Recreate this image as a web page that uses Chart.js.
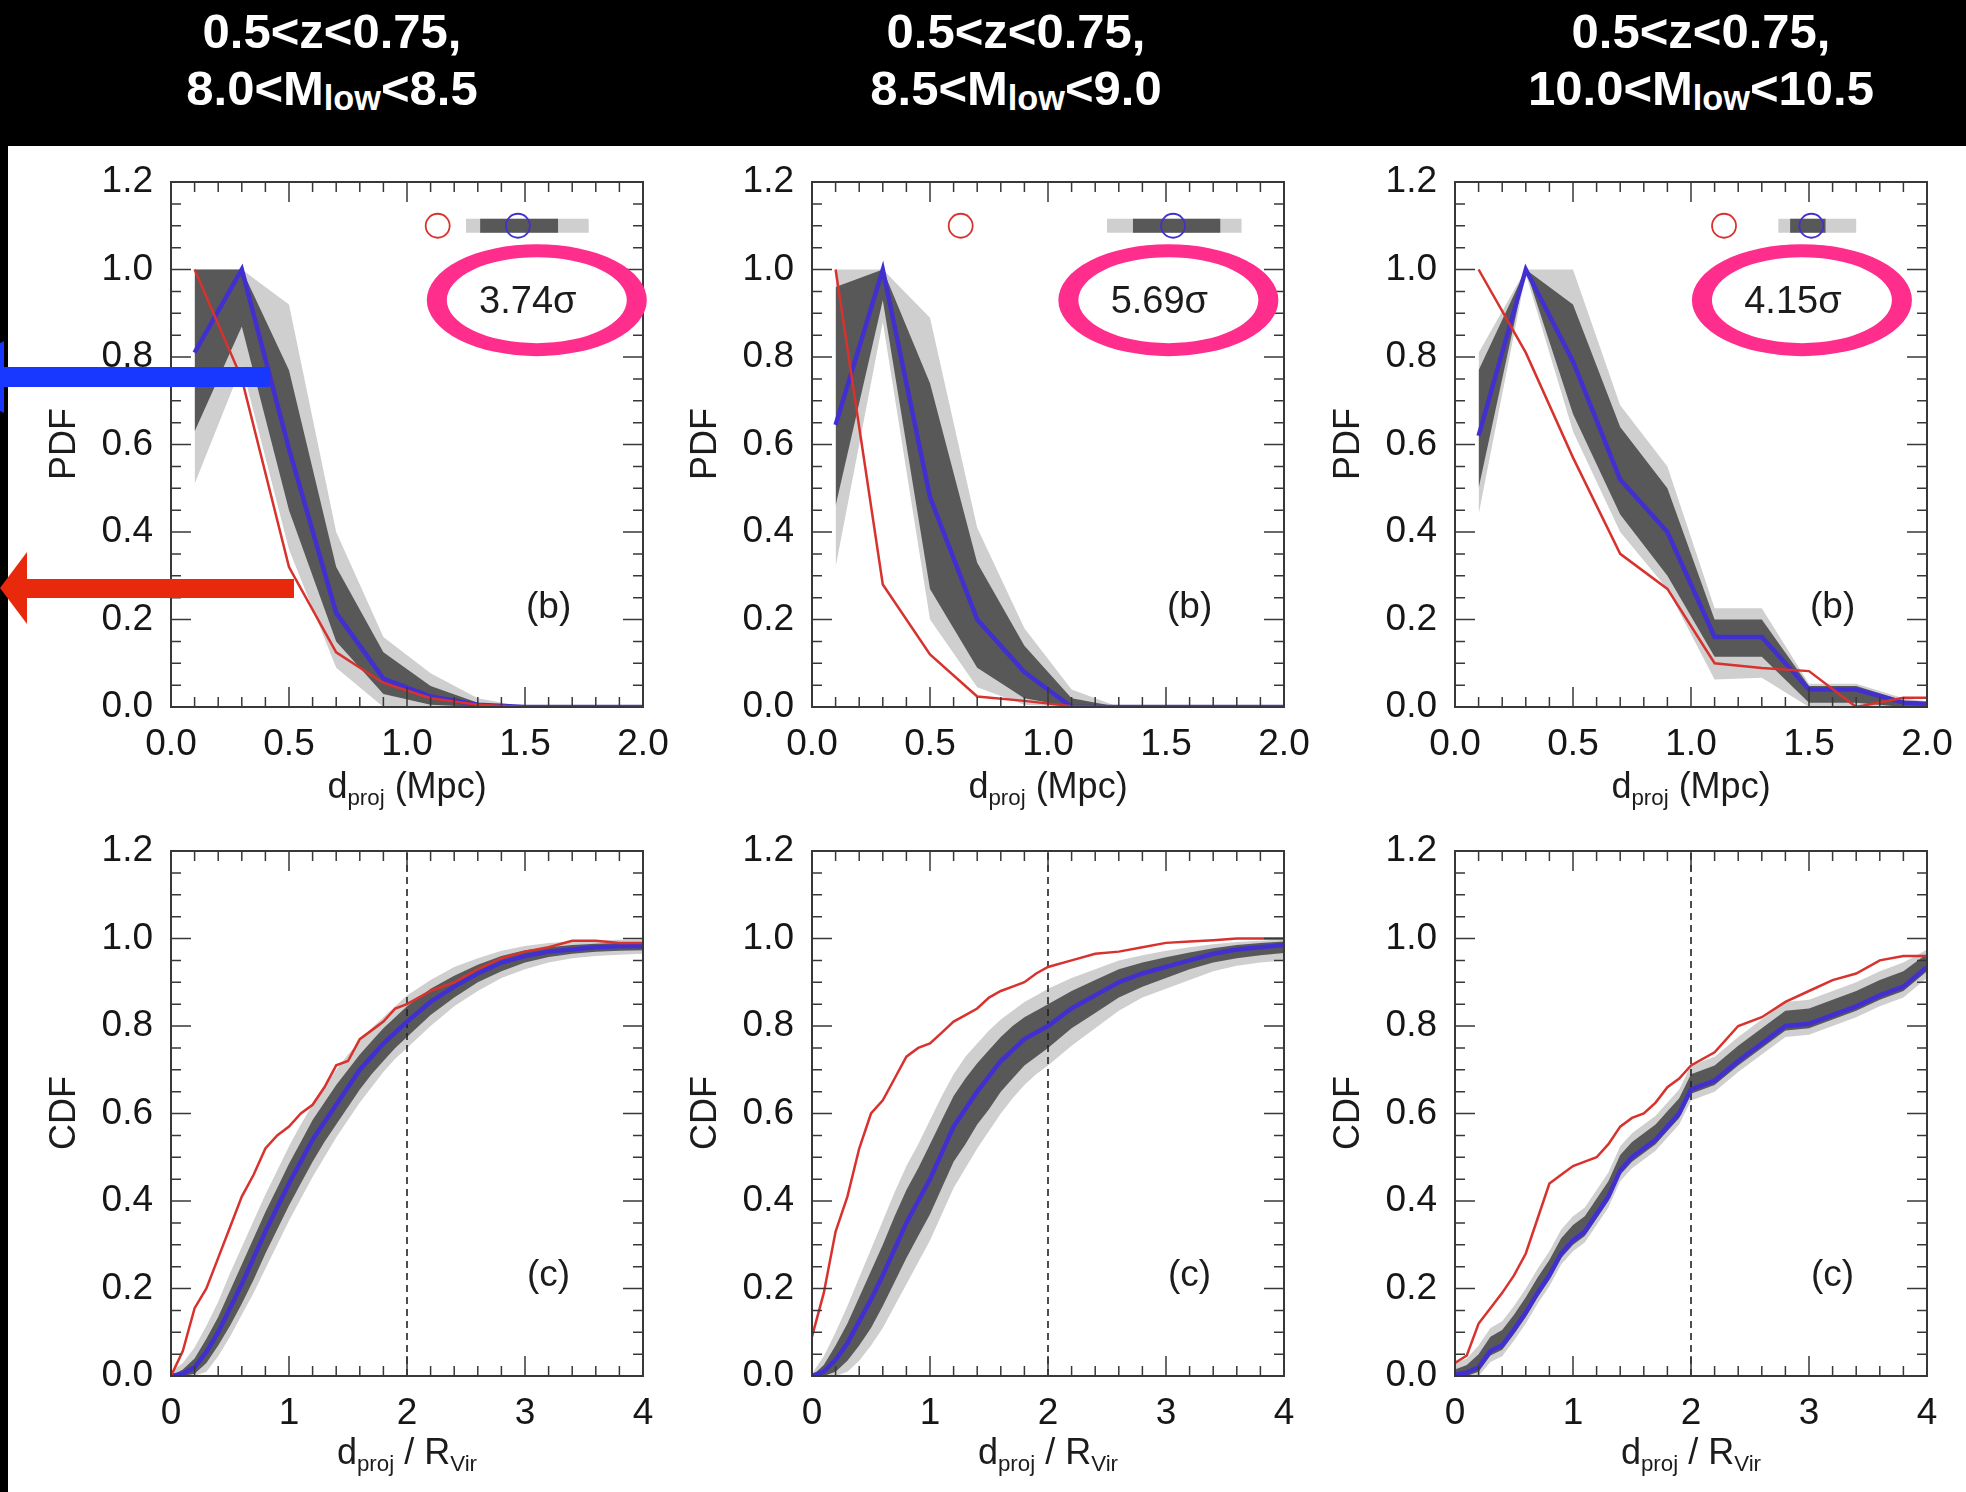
<!DOCTYPE html>
<html>
<head>
<meta charset="utf-8">
<title>PDF / CDF of projected distances</title>
<script src="https://cdn.jsdelivr.net/npm/chart.js@4.4.1/dist/chart.umd.min.js"></script>
<style>
  body { margin: 0; width: 1966px; height: 1492px; position: relative; overflow: hidden; background: #fff;
         font-family: "Liberation Sans", Arial, sans-serif; color: #1c1c1c; }
  #topband { position: absolute; left: 0; top: 0; width: 1966px; height: 146px; background: #000; }
  #leftband { position: absolute; left: 0; top: 0; width: 8px; height: 1492px; background: #000; }
  .title { position: absolute; top: 3px; width: 600px; text-align: center; color: #fff; font-weight: bold;
           font-size: 49px; line-height: 57px; }
  .title .s { font-size: 0.7em; position: relative; top: 0.16em; }
  canvas { position: absolute; }
  .xt { position: absolute; width: 400px; text-align: center; font-size: 36px; line-height: 40px; }
  .xt .s { font-size: 0.62em; position: relative; top: 0.32em; }
  .yt { position: absolute; width: 200px; height: 40px; line-height: 40px; text-align: center; font-size: 36px;
        transform: rotate(-90deg); }
  #arrows { position: absolute; left: 0; top: 0; z-index: 5; }
</style>
</head>
<body>
<div id="topband"></div>
<div id="leftband"></div>

<div class="title" style="left:32px">0.5&lt;z&lt;0.75,<br>8.0&lt;M<span class="s">low</span>&lt;8.5</div>
<div class="title" style="left:716px">0.5&lt;z&lt;0.75,<br>8.5&lt;M<span class="s">low</span>&lt;9.0</div>
<div class="title" style="left:1401px">0.5&lt;z&lt;0.75,<br>10.0&lt;M<span class="s">low</span>&lt;10.5</div>

<canvas id="pdf1" width="617" height="630" style="left:71px;top:147px"></canvas>
<canvas id="pdf2" width="617" height="630" style="left:712px;top:147px"></canvas>
<canvas id="pdf3" width="617" height="630" style="left:1355px;top:147px"></canvas>
<canvas id="cdf1" width="617" height="630" style="left:71px;top:816px"></canvas>
<canvas id="cdf2" width="617" height="630" style="left:712px;top:816px"></canvas>
<canvas id="cdf3" width="617" height="630" style="left:1355px;top:816px"></canvas>

<div class="yt" style="left:-37px;top:424px">PDF</div>
<div class="yt" style="left:604px;top:424px">PDF</div>
<div class="yt" style="left:1247px;top:424px">PDF</div>
<div class="yt" style="left:-37px;top:1093px">CDF</div>
<div class="yt" style="left:604px;top:1093px">CDF</div>
<div class="yt" style="left:1247px;top:1093px">CDF</div>

<div class="xt" style="left:207px;top:766px">d<span class="s">proj</span> (Mpc)</div>
<div class="xt" style="left:848px;top:766px">d<span class="s">proj</span> (Mpc)</div>
<div class="xt" style="left:1491px;top:766px">d<span class="s">proj</span> (Mpc)</div>
<div class="xt" style="left:207px;top:1432px">d<span class="s">proj</span> / R<span class="s">Vir</span></div>
<div class="xt" style="left:848px;top:1432px">d<span class="s">proj</span> / R<span class="s">Vir</span></div>
<div class="xt" style="left:1491px;top:1432px">d<span class="s">proj</span> / R<span class="s">Vir</span></div>

<svg id="arrows" width="320" height="700">
  <rect x="0" y="367" width="270" height="20" fill="#1838ff"/>
  <polygon points="4,341 4,413 -60,377" fill="#1838ff"/>
  <rect x="24" y="579" width="270" height="19" fill="#e8290c"/>
  <polygon points="0,588 27,552 27,624" fill="#e8290c"/>
</svg>

<script>
/* bin centres of the PDF histograms (Mpc) */
var pdfX = [0.1, 0.3, 0.5, 0.7, 0.9, 1.1, 1.3, 1.5, 1.7, 1.9, 2.1];

var pdfRed1 = [1.00, 0.75, 0.32, 0.125, 0.055, 0.02, 0.005, 0, 0, 0, 0];
var pdfBlue1 = [0.81, 1.00, 0.59, 0.215, 0.065, 0.024, 0.005, 0, 0, 0, 0];
var pdfDarkLo1 = [0.63, 0.87, 0.45, 0.15, 0.03, 0.005, 0, 0, 0, 0, 0];
var pdfDarkHi1 = [1.00, 1.00, 0.77, 0.32, 0.125, 0.048, 0.01, 0, 0, 0, 0];
var pdfLightLo1 = [0.51, 0.78, 0.36, 0.09, 0, 0, 0, 0, 0, 0, 0];
var pdfLightHi1 = [1.00, 1.00, 0.92, 0.40, 0.16, 0.077, 0.02, 0, 0, 0, 0];

var pdfRed2 = [1.00, 0.28, 0.12, 0.024, 0.014, 0.002, 0, 0, 0, 0, 0];
var pdfBlue2 = [0.645, 1.00, 0.48, 0.20, 0.08, 0, 0, 0, 0, 0, 0];
var pdfDarkLo2 = [0.46, 0.93, 0.27, 0.09, 0.02, 0, 0, 0, 0, 0, 0];
var pdfDarkHi2 = [0.96, 1.00, 0.74, 0.33, 0.14, 0.02, 0, 0, 0, 0, 0];
var pdfLightLo2 = [0.32, 0.88, 0.20, 0.045, 0.005, 0, 0, 0, 0, 0, 0];
var pdfLightHi2 = [1.00, 1.00, 0.89, 0.41, 0.18, 0.04, 0, 0, 0, 0, 0];

var pdfRed3 = [1.00, 0.81, 0.57, 0.35, 0.27, 0.10, 0.089, 0.082, 0, 0.021, 0.021];
var pdfBlue3 = [0.62, 1.00, 0.79, 0.52, 0.40, 0.16, 0.16, 0.04, 0.04, 0.01, 0.005];
var pdfDarkLo3 = [0.50, 1.00, 0.67, 0.44, 0.30, 0.115, 0.115, 0.01, 0.01, 0, 0];
var pdfDarkHi3 = [0.77, 1.00, 0.92, 0.64, 0.50, 0.20, 0.20, 0.048, 0.048, 0.015, 0.005];
var pdfLightLo3 = [0.44, 0.99, 0.63, 0.40, 0.27, 0.063, 0.067, 0, 0, 0, 0];
var pdfLightHi3 = [0.81, 1.00, 1.00, 0.69, 0.55, 0.226, 0.226, 0.053, 0.053, 0.02, 0.005];

/* d_proj / R_vir sample points of the CDFs */
var cdfX = [0, 0.1, 0.2, 0.3, 0.4, 0.5, 0.6, 0.7, 0.8, 0.9, 1.0, 1.1, 1.2, 1.3, 1.4, 1.5, 1.6, 1.7, 1.8, 1.9, 2.0,
            2.2, 2.4, 2.6, 2.8, 3.0, 3.2, 3.4, 3.6, 3.8, 4.0];

var cdfRed1 = [0, 0.057, 0.155, 0.20, 0.27, 0.34, 0.41, 0.46, 0.52, 0.55, 0.57, 0.60, 0.62, 0.66, 0.71, 0.72, 0.77, 0.79, 0.81, 0.84, 0.85,
               0.88, 0.90, 0.93, 0.955, 0.97, 0.98, 0.995, 0.995, 0.99, 0.99];
var cdfBlue1 = [0, 0.005, 0.02, 0.055, 0.10, 0.155, 0.21, 0.27, 0.33, 0.385, 0.44, 0.49, 0.54, 0.58, 0.62, 0.66, 0.70, 0.73, 0.76, 0.785, 0.81,
                0.855, 0.89, 0.92, 0.945, 0.96, 0.97, 0.975, 0.98, 0.982, 0.983];
var cdfDarkLo1 = [0, 0, 0.005, 0.03, 0.07, 0.115, 0.165, 0.22, 0.28, 0.335, 0.39, 0.44, 0.49, 0.535, 0.575, 0.615, 0.655, 0.69, 0.72, 0.75, 0.775,
                  0.825, 0.865, 0.90, 0.925, 0.945, 0.958, 0.965, 0.97, 0.972, 0.973];
var cdfDarkHi1 = [0, 0.015, 0.04, 0.085, 0.135, 0.195, 0.255, 0.315, 0.375, 0.43, 0.485, 0.535, 0.585, 0.625, 0.665, 0.70, 0.735, 0.765, 0.795, 0.82, 0.845,
                  0.885, 0.915, 0.94, 0.96, 0.973, 0.98, 0.985, 0.988, 0.99, 0.99];
var cdfLightLo1 = [0, 0, 0, 0.01, 0.045, 0.09, 0.14, 0.19, 0.245, 0.30, 0.355, 0.405, 0.455, 0.50, 0.545, 0.585, 0.625, 0.66, 0.695, 0.725, 0.75,
                   0.80, 0.845, 0.88, 0.91, 0.93, 0.945, 0.955, 0.96, 0.963, 0.965];
var cdfLightHi1 = [0.01, 0.03, 0.065, 0.115, 0.17, 0.235, 0.295, 0.355, 0.415, 0.47, 0.525, 0.575, 0.62, 0.66, 0.70, 0.735, 0.765, 0.795, 0.82, 0.845, 0.87,
                   0.905, 0.935, 0.955, 0.972, 0.983, 0.99, 0.993, 0.995, 0.997, 0.998];

var cdfRed2 = [0.09, 0.19, 0.33, 0.41, 0.52, 0.60, 0.63, 0.68, 0.73, 0.75, 0.76, 0.785, 0.81, 0.825, 0.84, 0.865, 0.88, 0.89, 0.90, 0.92, 0.935,
               0.95, 0.965, 0.97, 0.98, 0.99, 0.993, 0.996, 1.0, 1.0, 1.0];
var cdfBlue2 = [0, 0.01, 0.037, 0.075, 0.125, 0.175, 0.23, 0.29, 0.35, 0.40, 0.45, 0.51, 0.57, 0.61, 0.65, 0.685, 0.72, 0.745, 0.77, 0.785, 0.80,
                0.84, 0.87, 0.90, 0.92, 0.935, 0.95, 0.965, 0.975, 0.98, 0.985];
var cdfDarkLo2 = [0, 0, 0.01, 0.035, 0.07, 0.11, 0.16, 0.215, 0.27, 0.32, 0.37, 0.43, 0.49, 0.53, 0.575, 0.61, 0.65, 0.68, 0.71, 0.73, 0.75,
                  0.795, 0.83, 0.865, 0.89, 0.91, 0.93, 0.945, 0.955, 0.962, 0.967];
var cdfDarkHi2 = [0, 0.025, 0.07, 0.12, 0.18, 0.24, 0.30, 0.365, 0.425, 0.475, 0.53, 0.585, 0.64, 0.68, 0.715, 0.745, 0.775, 0.80, 0.82, 0.835, 0.85,
                  0.88, 0.905, 0.93, 0.945, 0.957, 0.968, 0.978, 0.985, 0.99, 0.993];
var cdfLightLo2 = [0, 0, 0, 0.01, 0.035, 0.07, 0.11, 0.16, 0.21, 0.26, 0.31, 0.37, 0.43, 0.475, 0.52, 0.56, 0.60, 0.635, 0.665, 0.69, 0.71,
                   0.755, 0.795, 0.835, 0.865, 0.885, 0.905, 0.925, 0.938, 0.945, 0.95];
var cdfLightHi2 = [0.005, 0.045, 0.10, 0.16, 0.225, 0.29, 0.355, 0.42, 0.48, 0.53, 0.585, 0.64, 0.69, 0.73, 0.76, 0.79, 0.815, 0.835, 0.855, 0.87, 0.885,
                   0.91, 0.93, 0.95, 0.962, 0.972, 0.98, 0.987, 0.992, 0.995, 0.998];

var cdfRed3 = [0.03, 0.047, 0.12, 0.155, 0.19, 0.23, 0.28, 0.36, 0.44, 0.46, 0.48, 0.49, 0.50, 0.53, 0.57, 0.59, 0.60, 0.625, 0.66, 0.68, 0.71,
               0.74, 0.80, 0.82, 0.855, 0.88, 0.905, 0.92, 0.95, 0.96, 0.96];
var cdfBlue3 = [0.003, 0.008, 0.02, 0.057, 0.07, 0.106, 0.145, 0.19, 0.23, 0.28, 0.31, 0.33, 0.37, 0.41, 0.47, 0.50, 0.52, 0.54, 0.57, 0.60, 0.655,
                0.675, 0.72, 0.76, 0.80, 0.805, 0.825, 0.845, 0.87, 0.89, 0.935];
var cdfDarkLo3 = [0, 0, 0.01, 0.047, 0.06, 0.096, 0.135, 0.18, 0.22, 0.27, 0.30, 0.32, 0.36, 0.40, 0.46, 0.49, 0.51, 0.53, 0.56, 0.59, 0.645,
                  0.665, 0.71, 0.75, 0.79, 0.795, 0.815, 0.835, 0.86, 0.88, 0.925];
var cdfDarkHi3 = [0.015, 0.025, 0.05, 0.09, 0.105, 0.14, 0.18, 0.225, 0.265, 0.315, 0.345, 0.365, 0.405, 0.445, 0.505, 0.535, 0.555, 0.575, 0.605, 0.635, 0.69,
                  0.71, 0.755, 0.795, 0.835, 0.84, 0.86, 0.88, 0.905, 0.925, 0.965];
var cdfLightLo3 = [0, 0, 0, 0.032, 0.045, 0.081, 0.12, 0.165, 0.205, 0.255, 0.285, 0.305, 0.345, 0.385, 0.445, 0.475, 0.495, 0.515, 0.545, 0.575, 0.63,
                   0.65, 0.695, 0.735, 0.775, 0.78, 0.80, 0.82, 0.845, 0.865, 0.91];
var cdfLightHi3 = [0.03, 0.04, 0.07, 0.11, 0.125, 0.16, 0.20, 0.245, 0.285, 0.335, 0.365, 0.385, 0.425, 0.465, 0.525, 0.555, 0.575, 0.595, 0.625, 0.655, 0.71,
                   0.73, 0.775, 0.815, 0.855, 0.86, 0.88, 0.90, 0.925, 0.945, 0.975];

/* medians and their spread, drawn at PDF = 1.1 */
var redMedian = [1.13, 0.63, 1.14];
var blueMedian = [1.47, 1.53, 1.51];
var darkSpread = [[1.31, 1.64], [1.36, 1.73], [1.42, 1.57]];
var lightSpread = [[1.25, 1.77], [1.25, 1.82], [1.37, 1.70]];
var sigmaLabels = ['3.74σ', '5.69σ', '4.15σ'];
var rvirCut = 2;

var RED = '#d8322e', BLUE = '#4130cf', DARK = '#585858', LIGHT = '#cfcfcf', PINK = '#ff2d8c';
var FONT = '"Liberation Sans", Arial, sans-serif';

function pts(xs, ys) {
    return xs.map(function (x, i) { return {x: x, y: ys[i]}; });
}

function isMajor(v, step) {
    var r = v / step;
    return Math.abs(r - Math.round(r)) < 1e-6;
}

/* IDL style frame with inward ticks on all four sides */
function frameTicks(xMajor, xMinor) {
    return {
        id: 'frameTicks',
        afterDatasetsDraw: function (chart) {
            var ctx = chart.ctx, a = chart.chartArea;
            var xs = chart.scales.x, ys = chart.scales.y;
            ctx.save();
            ctx.strokeStyle = '#383838';
            ctx.lineWidth = 1.5;
            ctx.beginPath();
            for (var v = xs.min; v <= xs.max + 1e-9; v += xMinor) {
                var px = xs.getPixelForValue(v);
                var len = isMajor(v, xMajor) ? 20 : 10;
                ctx.moveTo(px, a.bottom); ctx.lineTo(px, a.bottom - len);
                ctx.moveTo(px, a.top); ctx.lineTo(px, a.top + len);
            }
            for (var w = 0; w <= 1.2 + 1e-9; w += 0.05) {
                var py = ys.getPixelForValue(w);
                var l2 = isMajor(w, 0.2) ? 20 : 10;
                ctx.moveTo(a.left, py); ctx.lineTo(a.left + l2, py);
                ctx.moveTo(a.right, py); ctx.lineTo(a.right - l2, py);
            }
            ctx.stroke();
            ctx.lineWidth = 2;
            ctx.strokeRect(a.left, a.top, a.right - a.left, a.bottom - a.top);
            ctx.restore();
        }
    };
}

/* medians, significance ellipse and panel letter of the PDF panels */
function pdfMarks(i) {
    return {
        id: 'pdfMarks',
        afterDraw: function (chart) {
            var ctx = chart.ctx, xs = chart.scales.x, ys = chart.scales.y;
            var yc = ys.getPixelForValue(1.1);
            ctx.save();
            var l0 = xs.getPixelForValue(lightSpread[i][0]), l1 = xs.getPixelForValue(lightSpread[i][1]);
            ctx.fillStyle = LIGHT;
            ctx.fillRect(l0, yc - 7, l1 - l0, 14);
            var d0 = xs.getPixelForValue(darkSpread[i][0]), d1 = xs.getPixelForValue(darkSpread[i][1]);
            ctx.fillStyle = DARK;
            ctx.fillRect(d0, yc - 7, d1 - d0, 14);

            ctx.lineWidth = 1.8;
            ctx.strokeStyle = RED;
            ctx.beginPath();
            ctx.arc(xs.getPixelForValue(redMedian[i]), yc, 12, 0, 2 * Math.PI);
            ctx.stroke();
            ctx.strokeStyle = BLUE;
            ctx.beginPath();
            ctx.arc(xs.getPixelForValue(blueMedian[i]), yc, 12, 0, 2 * Math.PI);
            ctx.stroke();

            // hand drawn pink ring round the significance
            var ex = xs.getPixelForValue([1.55, 1.51, 1.47][i]), ey = ys.getPixelForValue(0.93);
            ctx.fillStyle = PINK;
            ctx.beginPath();
            ctx.ellipse(ex, ey, 110, 56, 0, 0, 2 * Math.PI);
            ctx.moveTo(ex + 90, ey);
            ctx.ellipse(ex, ey, 90, 43, 0, 0, 2 * Math.PI);
            ctx.fill('evenodd');

            ctx.fillStyle = '#1c1c1c';
            ctx.textAlign = 'center';
            ctx.textBaseline = 'middle';
            ctx.font = '38px ' + FONT;
            ctx.fillText(sigmaLabels[i], ex - 9, ey + 2);
            ctx.font = '37px ' + FONT;
            ctx.fillText('(b)', xs.getPixelForValue(1.6), ys.getPixelForValue(0.226));
            ctx.restore();
        }
    };
}

var cdfMarks = {
    id: 'cdfMarks',
    afterDraw: function (chart) {
        var ctx = chart.ctx, xs = chart.scales.x, ys = chart.scales.y;
        ctx.save();
        ctx.fillStyle = '#1c1c1c';
        ctx.textAlign = 'center';
        ctx.textBaseline = 'middle';
        ctx.font = '37px ' + FONT;
        ctx.fillText('(c)', xs.getPixelForValue(3.2), ys.getPixelForValue(0.23));
        ctx.restore();
    }
};

function bandSets(xs, lightLo, lightHi, darkLo, darkHi) {
    var base = {borderColor: 'transparent', borderWidth: 0, pointRadius: 0, tension: 0};
    return [
        Object.assign({data: pts(xs, lightHi), fill: '+1', backgroundColor: LIGHT, order: 6}, base),
        Object.assign({data: pts(xs, lightLo), fill: false, order: 6}, base),
        Object.assign({data: pts(xs, darkHi), fill: '+1', backgroundColor: DARK, order: 5}, base),
        Object.assign({data: pts(xs, darkLo), fill: false, order: 5}, base)
    ];
}

function lineSet(xs, ys, color, width, order) {
    return {data: pts(xs, ys), borderColor: color, borderWidth: width, pointRadius: 0,
            fill: false, tension: 0, order: order};
}

function drawPanel(canvasId, kind, sets, plugins) {
    var ctx = document.getElementById(canvasId).getContext('2d');
    var isPdf = kind === 'pdf';
    var tickFont = {family: FONT, size: 37};
    new Chart(ctx, {
        type: 'line',
        data: {datasets: sets},
        options: {
            responsive: false,
            animation: false,
            events: [],
            devicePixelRatio: 1,
            layout: {padding: {left: 0, top: 35, right: 45, bottom: 0}},
            plugins: {legend: {display: false}, tooltip: {enabled: false}},
            scales: {
                x: {
                    type: 'linear', min: 0, max: isPdf ? 2 : 4,
                    grid: {display: false}, border: {display: false},
                    ticks: {stepSize: isPdf ? 0.5 : 1, color: '#161616', font: tickFont, padding: 8, maxRotation: 0,
                            callback: function (v) { return isPdf ? v.toFixed(1) : String(v); }},
                    afterFit: function (s) { s.height = 70; }
                },
                y: {
                    type: 'linear', min: 0, max: 1.2,
                    grid: {display: false}, border: {display: false},
                    ticks: {stepSize: 0.2, color: '#161616', font: tickFont, padding: 10,
                            callback: function (v) { return v.toFixed(1); }},
                    afterFit: function (s) { s.width = 100; }
                }
            }
        },
        plugins: plugins
    });
}

function pdfPanel(id, i, red, blue, dLo, dHi, lLo, lHi) {
    var sets = bandSets(pdfX, lLo, lHi, dLo, dHi);
    sets.push(lineSet(pdfX, blue, BLUE, 4.5, 1));
    sets.push(lineSet(pdfX, red, RED, 2.5, 0));
    drawPanel(id, 'pdf', sets, [frameTicks(0.5, 0.1), pdfMarks(i)]);
}

function cdfPanel(id, red, blue, dLo, dHi, lLo, lHi) {
    var sets = bandSets(cdfX, lLo, lHi, dLo, dHi);
    sets.push({data: [{x: rvirCut, y: 0}, {x: rvirCut, y: 1.2}], borderColor: '#222', borderWidth: 1.6,
               borderDash: [7, 5], pointRadius: 0, fill: false, order: 2});
    sets.push(lineSet(cdfX, blue, BLUE, 4.5, 1));
    sets.push(lineSet(cdfX, red, RED, 2.5, 0));
    drawPanel(id, 'cdf', sets, [frameTicks(1, 0.2), cdfMarks]);
}

pdfPanel('pdf1', 0, pdfRed1, pdfBlue1, pdfDarkLo1, pdfDarkHi1, pdfLightLo1, pdfLightHi1);
pdfPanel('pdf2', 1, pdfRed2, pdfBlue2, pdfDarkLo2, pdfDarkHi2, pdfLightLo2, pdfLightHi2);
pdfPanel('pdf3', 2, pdfRed3, pdfBlue3, pdfDarkLo3, pdfDarkHi3, pdfLightLo3, pdfLightHi3);
cdfPanel('cdf1', cdfRed1, cdfBlue1, cdfDarkLo1, cdfDarkHi1, cdfLightLo1, cdfLightHi1);
cdfPanel('cdf2', cdfRed2, cdfBlue2, cdfDarkLo2, cdfDarkHi2, cdfLightLo2, cdfLightHi2);
cdfPanel('cdf3', cdfRed3, cdfBlue3, cdfDarkLo3, cdfDarkHi3, cdfLightLo3, cdfLightHi3);
</script>
</body>
</html>
